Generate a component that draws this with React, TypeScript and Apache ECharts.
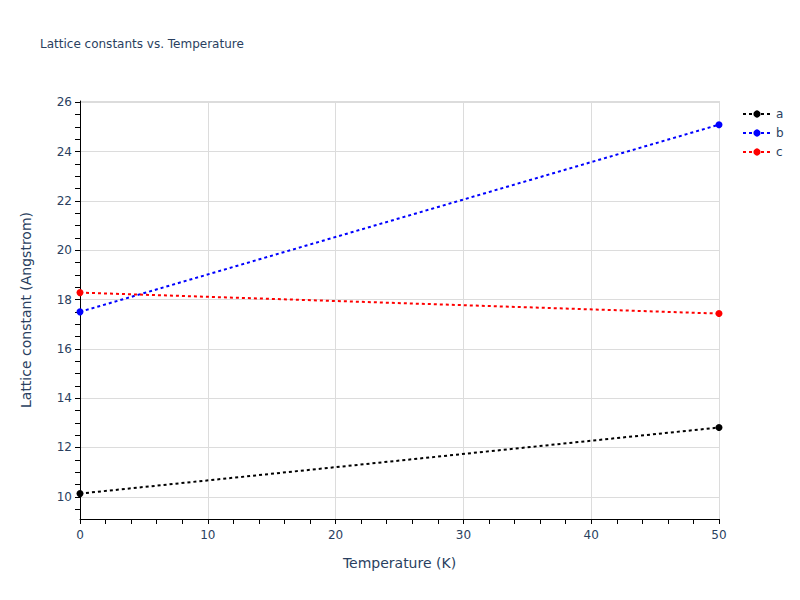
import React, { useEffect, useRef } from "react";
import * as echarts from "echarts";

const temperatures = [0, 50];
const seriesNames = ["a", "b", "c"];
const seriesColors = ["#000000", "#0000ff", "#ff0000"];
const valuesA = [10.13, 12.81];
const valuesB = [17.5, 25.09];
const valuesC = [18.28, 17.43];
const yTickLabels = [10, 12, 14, 16, 18, 20, 22, 24, 26];
const xTickLabels = [0, 10, 20, 30, 40, 50];

const textColor = "#2a3f5f";
const font = "'DejaVu Sans', Verdana, sans-serif";

export default function App() {
  const ref = useRef<HTMLDivElement>(null);
  useEffect(() => {
    if (!ref.current) return;
    const chart = echarts.init(ref.current, null, { renderer: "svg" });
    const all = [valuesA, valuesB, valuesC];
    const yMin = 9.1;
    const yMax = 26.05;
    const yTicks: number[] = [];
    for (let v = 9.5; v <= 26.001; v += 0.5) yTicks.push(Math.round(v * 10) / 10);
    chart.setOption({
      animation: false,
      backgroundColor: "#ffffff",
      title: {
        text: "Lattice constants vs. Temperature",
        left: 35,
        top: 33,
        textStyle: { fontFamily: font, fontSize: 12, fontWeight: "normal", color: textColor },
      },
      legend: {
        orient: "vertical",
        left: 737,
        top: 103,
        itemWidth: 28,
        itemHeight: 9,
        itemGap: 7,
        textStyle: { fontFamily: font, fontSize: 12, color: textColor },
        data: seriesNames,
      },
      grid: { left: 80, right: 81, top: 101, bottom: 81, containLabel: false },
      xAxis: {
        type: "value",
        min: xTickLabels[0],
        max: xTickLabels[xTickLabels.length - 1],
        interval: 10,
        name: "Temperature (K)",
        nameLocation: "middle",
        nameGap: 37,
        nameTextStyle: { fontFamily: font, fontSize: 14, color: textColor },
        axisLine: { show: true, lineStyle: { color: "#000", width: 1 } },
        axisTick: { show: true, length: 5, lineStyle: { color: "#000" } },
        minorTick: { show: true, splitNumber: 5, length: 5, lineStyle: { color: "#000" } },
        axisLabel: { fontFamily: font, fontSize: 12, color: textColor, margin: 10 },
        splitLine: { show: true, lineStyle: { color: "#dcdcdc", width: 1 } },
      },
      yAxis: [
        {
          type: "value",
          min: yMin,
          max: yMax,
          name: "Lattice constant (Angstrom)",
          nameLocation: "middle",
          nameGap: 47,
          nameTextStyle: { fontFamily: font, fontSize: 14, color: textColor },
          axisLine: { show: true, lineStyle: { color: "#000", width: 1 } },
          axisTick: { show: true, length: 5, lineStyle: { color: "#000" }, customValues: yTicks },
          minorTick: { show: false },
          axisLabel: {
            fontFamily: font,
            fontSize: 12,
            color: textColor,
            margin: 8,
            customValues: yTickLabels,
          },
          splitLine: { show: false },
          z: 3,
        },
        {
          type: "value",
          min: yMin,
          max: yMax,
          splitNumber: 8,
          position: "left",
          axisLine: { show: false },
          axisTick: { show: false },
          axisLabel: { show: false },
          splitLine: { show: true, lineStyle: { color: "#dcdcdc", width: 1 } },
          z: 0,
        },
      ],
      series: seriesNames.map((name, i) => ({
        name,
        type: "line",
        yAxisIndex: 0,
        data: temperatures.map((t, j) => [t, all[i][j]]),
        symbol: "circle",
        symbolSize: 7,
        color: seriesColors[i],
        itemStyle: { color: seriesColors[i] },
        lineStyle: { color: seriesColors[i], width: 2, type: [3, 3] },
      })),
    });
    return () => chart.dispose();
  }, []);
  return <div ref={ref} style={{ width: 800, height: 600, position: "absolute", left: 0, top: 0 }} />;
}
